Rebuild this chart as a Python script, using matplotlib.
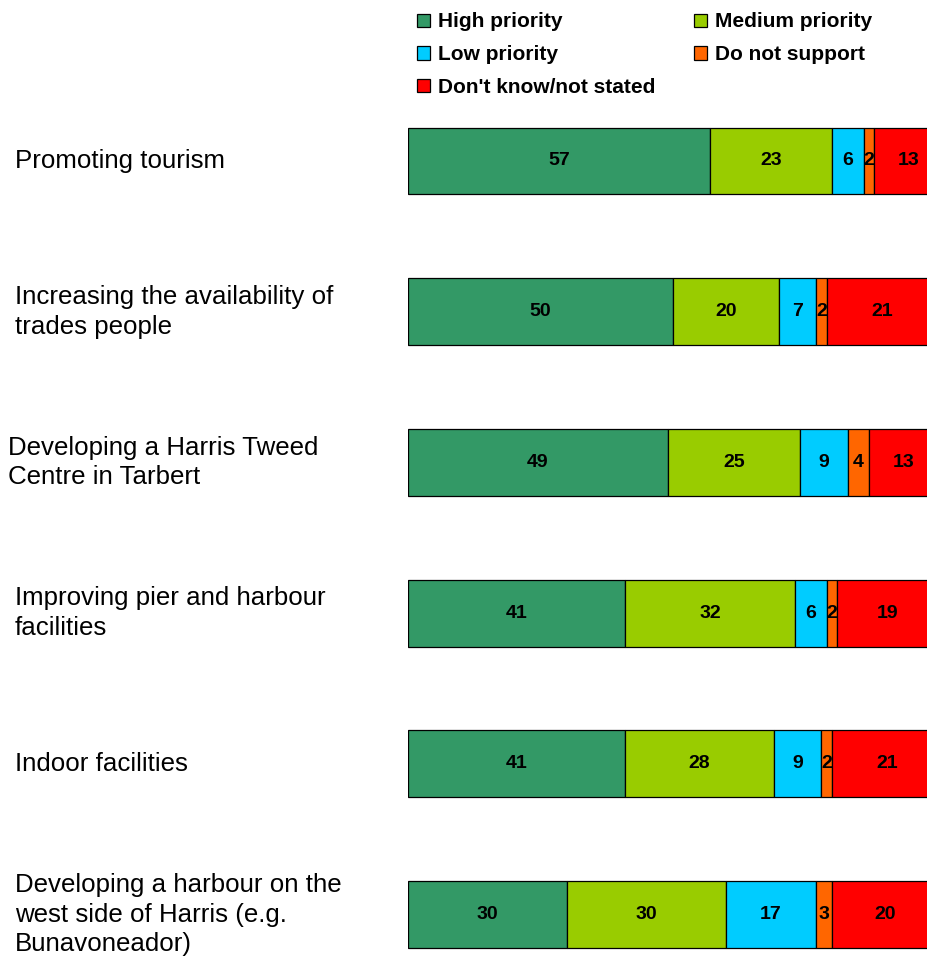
import numpy as np
import matplotlib.pyplot as plt
from matplotlib.patches import Patch
from matplotlib.transforms import blended_transform_factory

plt.rcParams['font.family'] = ['Liberation Sans', 'DejaVu Sans']

categories = ['Promoting tourism',
              'Increasing the availability of\ntrades people',
              'Developing a Harris Tweed\nCentre in Tarbert',
              'Improving pier and harbour\nfacilities',
              'Indoor facilities',
              'Developing a harbour on the\nwest side of Harris (e.g.\nBunavoneador)']
series_names = ['High priority', 'Medium priority', 'Low priority',
                'Do not support', "Don't know/not stated"]
high = [57, 50, 49, 41, 41, 30]
medium = [23, 20, 25, 32, 28, 30]
low = [6, 7, 9, 6, 9, 17]
not_support = [2, 2, 4, 2, 2, 3]
dont_know = [13, 21, 13, 19, 21, 20]

colors = ['#339966', '#99CC00', '#00CCFF', '#FF6600', '#FF0000']
W, H = 928, 959

fig = plt.figure(figsize=(W / 100, H / 100), dpi=100)
# axes placed in pixel terms: x from 408 to 938, bar centres 161 .. 915
ax = fig.add_axes([408 / W, (H - 990) / H, 530 / W, (990 - 85.6) / H])

data = np.array([high, medium, low, not_support, dont_know], dtype=float)
y = np.arange(len(categories))
left = np.zeros(len(categories))
for vals, name, c in zip(data, series_names, colors):
    ax.barh(y, vals, left=left, height=0.444, color=c, edgecolor='black',
            linewidth=0.9, label=name)
    for yi, l, v in zip(y, left, vals):
        ax.text(l + v / 2, yi, '%d' % v, ha='center', va='center',
                fontsize=14, fontweight='bold', color='black')
    left += vals

ax.set_xlim(0, 100)
ax.set_ylim(5.5, -0.5)
ax.axis('off')

tr = blended_transform_factory(fig.transFigure, ax.transData)
label_x = [15, 15, 8, 15, 15, 15]
for yi, txt, lx in zip(y, categories, label_x):
    ax.text(lx / W, yi, txt, transform=tr, ha='left', va='center',
            fontsize=18.6, linespacing=1.3)

handles = [Patch(facecolor=c, edgecolor='black', linewidth=0.9) for c in colors]
order = [0, 2, 4, 1, 3]
fig.legend([handles[i] for i in order], [series_names[i] for i in order],
           ncol=2, loc='upper left', bbox_to_anchor=(405 / W, 1 - 0 / H),
           frameon=False, prop={'weight': 'bold', 'size': 15},
           handlelength=0.6, handleheight=0.6, handletextpad=0.4,
           labelspacing=0.66, columnspacing=1.85, borderpad=0.1)

fig.savefig('out.png', dpi=100)
